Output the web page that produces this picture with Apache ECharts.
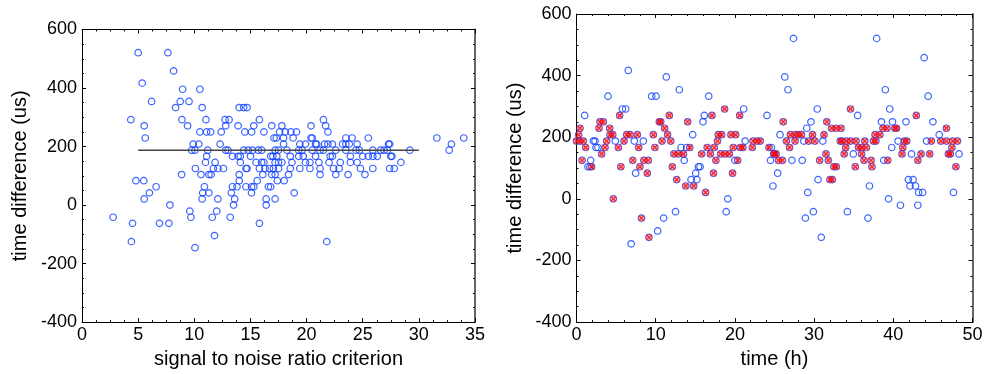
<!DOCTYPE html>
<html>
<head>
<meta charset="utf-8">
<script src="https://cdn.jsdelivr.net/npm/echarts@6/dist/echarts.min.js"></script>
<style>
html,body{margin:0;padding:0;background:#fff;}
#chart{width:995px;height:374px;}
</style>
</head>
<body>
<div id="chart"></div>
<script>
// ---- Left panel: signal to noise ratio criterion vs time difference ----
const snrPoints = [
[5.0,520.8],[7.65,520.8],[8.16,458.3],[5.36,416.7],[8.96,395.8],[10.5,395.8],[6.2,354.2],[8.75,354.2],[9.53,354.2],[8.34,333.3],[10.7,333.3],[14.0,333.3],[14.4,333.3],[14.7,333.3],
[4.35,291.7],[8.9,291.7],[11.04,291.7],[12.74,291.7],[13.1,291.7],[15.8,291.7],[5.54,270.8],[9.4,270.8],[12.8,270.8],[13.9,270.8],[15.3,270.8],[16.9,270.8],
[5.63,229.2],[10.5,250],[11.1,250],[11.46,250],[12.4,250],[14.5,250],[15.1,250],[16.2,250],[17.1,229.2],[9.9,208.3],[10.4,208.3],[12.3,208.3],
[9.77,187.5],[10.06,187.5],[11.2,187.5],[12.8,187.5],[13.0,187.5],[14.4,187.5],[14.8,187.5],[15.2,187.5],[15.7,187.5],[16.0,187.5],[17.5,187.5],
[11.1,166.7],[13.4,166.7],[13.9,166.7],[14.1,166.7],[15.0,166.7],[17.0,166.7],[11.0,145.8],[11.85,145.8],[14.1,145.8],[15.5,145.8],[16.0,145.8],[16.2,145.8],
[10.1,125],[11.7,125],[12.1,125],[12.6,125],[14.6,125],[14.7,125],[15.8,125],[16.3,125],[16.7,125],[8.87,104.2],[10.6,104.2],[11.3,104.2],[11.5,104.2],[14.0,104.2],[16.1,104.2],[17.2,104.2],
[21.5,291.7],[21.7,270.8],[21.9,250],[17.8,270.8],[20.4,270.8],[17.6,250],[18.1,250],[18.6,250],[19.1,250],
[17.3,229.2],[17.95,229.2],[18.8,229.2],[20.4,229.2],[20.5,229.2],[23.5,229.2],[24.05,229.2],[25.5,229.2],[31.6,229.2],[34.0,229.2],
[17.95,208.3],[19.4,208.3],[19.9,208.3],[20.8,208.3],[20.9,208.3],[21.6,208.3],[21.9,208.3],[22.3,208.3],[23.2,208.3],[23.5,208.3],[23.8,208.3],[24.5,208.3],[27.3,208.3],[27.4,208.3],[32.9,208.3],
[32.7,187.5],[29.2,187.5],[17.2,187.5],[18.25,187.5],[19.3,187.5],[19.6,187.5],[20.5,187.5],[21.2,187.5],[21.5,187.5],[22.6,187.5],[23.5,187.5],[24.4,187.5],[24.7,187.5],[25.9,187.5],[26.6,187.5],[26.9,187.5],[27.2,187.5],
[16.8,166.7],[17.35,166.7],[18.55,166.7],[19.3,166.7],[19.7,166.7],[20.8,166.7],[22.1,166.7],[22.3,166.7],[23.9,166.7],[25.0,166.7],[25.5,166.7],[25.9,166.7],[26.3,166.7],[27.5,166.7],[27.6,166.7],
[17.2,145.8],[17.5,145.8],[17.8,145.8],[18.7,145.8],[19.9,145.8],[20.3,145.8],[21.1,145.8],[22.0,145.8],[23.0,145.8],[23.9,145.8],[24.5,145.8],[28.4,145.8],
[17.05,125],[17.5,125],[18.55,125],[19.4,125],[20.3,125],[21.2,125],[22.4,125],[22.9,125],[24.8,125],[25.9,125],[27.4,125],[27.8,125],
[16.9,104.2],[18.4,104.2],[21.2,104.2],[22.6,104.2],[23.7,104.2],[25.2,104.2],
[2.77,-41.7],[4.4,-125],[4.5,-62.5],[4.8,83.3],[5.5,83.3],[5.54,20.8],[6.0,41.7],[6.6,62.5],[6.9,-62.5],[7.74,-62.5],[7.83,0],[9.6,-20.8],[9.7,-41.7],[10.06,-145.8],
[10.7,20.8],[10.75,41.7],[10.9,62.5],[11.3,41.7],[11.6,-41.7],[11.8,-104.2],[12.0,-20.8],[12.1,20.8],[13.2,-41.7],[13.3,41.7],[13.4,62.5],[13.8,62.5],[13.6,20.8],[13.5,0],
[14.0,83.3],[14.6,62.5],[15.1,62.5],[15.3,62.5],[15.1,41.7],[15.6,83.3],[15.8,-62.5],[16.4,0],[16.6,62.5],[16.4,20.8],[17.4,83.3],
[16.8,62.5],[17.2,20.8],[18.0,83.3],[18.9,41.7],[21.8,-125]
];
const meanLineX = [5, 30];
const meanLineY = [187.5, 187.5];

// ---- Right panel: time (h) vs time difference ----
const timeOther = [
[6.54,416.7],[11.34,395.8],[12.98,354.2],[3.98,333.3],[9.49,333.3],[10.04,333.3],[16.69,333.3],[5.79,291.7],[6.21,291.7],[21.1,291.7],[1.03,270.8],[16.14,270.8],[24.05,270.8],[15.97,250],[14.67,208.3],[25.7,208.3],
[2.13,187.5],[2.34,187.5],[4.9,187.5],[7.3,187.5],[8.44,187.5],[21.3,187.5],[2.46,166.7],[2.71,166.7],[13.2,166.7],[13.9,166.7],[1.79,125],[13.6,125],[20.0,125],[24.5,125],[1.45,104.2],[1.7,104.2],[15.4,104.2],[15.6,104.2],[7.47,83.3],[15.05,83.3],[25.4,83.3],
[27.4,520.8],[37.9,520.8],[43.9,458.3],[26.3,395.8],[26.7,354.2],[38.99,354.2],[44.4,333.3],[30.4,291.7],[39.55,291.7],[35.5,270.8],[29.6,250],[38.5,250],[39.9,250],[41.6,250],[45.0,250],[29.07,229.2],[45.8,208.3],[24.6,166.7],[39.8,166.7],
[28.7,187.5],[31.1,187.5],[40.6,187.5],[44.2,187.5],[27.2,125],[28.5,125],[38.8,125],[34.95,145.8],[42.3,145.8],[48.3,145.8],
[14.46,62.5],[15.2,62.5],[24.8,41.7],[19.1,0],[12.5,-41.7],[18.9,-41.7],[11.0,-62.5],[10.25,-104.2],[6.9,-145.8],
[30.5,62.5],[36.99,41.7],[41.9,62.5],[42.5,62.5],[42.1,41.7],[42.8,41.7],[43.2,20.8],[43.7,20.8],[47.6,20.8],[29.2,20.8],[39.4,0],[40.9,-20.8],[43.1,-20.8],[29.9,-41.7],[34.2,-41.7],[28.9,-62.5],[36.8,-62.5],[30.9,-125]
];
const timeSelected = [
[18.7,291.7],[5.45,270.8],[11.72,270.8],[17.1,270.8],[20.6,270.8],[2.97,250],[3.39,250],[10.46,250],[10.63,250],[14.04,250],[0.44,229.2],[2.84,229.2],[4.19,229.2],[11.13,229.2],
[0.27,208.3],[4.23,208.3],[4.57,208.3],[6.34,208.3],[6.76,208.3],[7.68,208.3],[9.7,208.3],[11.5,208.3],[17.9,208.3],[18.33,208.3],[19.5,208.3],[20.1,208.3],
[0.0,187.5],[0.44,187.5],[0.86,187.5],[3.81,187.5],[6.0,187.5],[10.8,187.5],[11.9,187.5],[17.8,187.5],[22.3,187.5],[22.8,187.5],[23.2,187.5],
[1.16,166.7],[3.6,166.7],[5.28,166.7],[7.85,166.7],[9.9,166.7],[14.3,166.7],[16.5,166.7],[17.4,166.7],[19.8,166.7],[20.7,166.7],[21.0,166.7],[22.2,166.7],[24.3,166.7],
[3.18,145.8],[12.3,145.8],[12.86,145.8],[13.5,145.8],[15.8,145.8],[16.9,145.8],[18.2,145.8],[18.75,145.8],[19.3,145.8],[24.9,145.8],
[0.7,125],[7.1,125],[8.5,125],[9.07,125],[17.6,125],[20.35,125],[1.9,104.2],[5.6,104.2],[8.0,104.2],[12.1,104.2],[8.94,83.3],[17.3,83.3],[19.7,83.3],
[34.6,291.7],[42.9,270.8],[26.1,250],[31.6,250],[32.2,229.2],[32.8,229.2],[33.4,229.2],[38.7,229.2],[39.2,229.2],[40.2,229.2],[40.4,229.2],[46.7,229.2],
[27.0,208.3],[27.6,208.3],[28.0,208.3],[28.4,208.3],[29.8,208.3],[31.25,208.3],[37.7,208.3],[38.3,208.3],
[26.5,187.5],[27.6,187.5],[29.3,187.5],[30.1,187.5],[33.3,187.5],[33.5,187.5],[34.1,187.5],[34.6,187.5],[35.3,187.5],[36.4,187.5],[37.5,187.5],[37.8,187.5],[41.4,187.5],[41.7,187.5],[44.8,187.5],[46.0,187.5],[46.7,187.5],[47.5,187.5],[48.1,187.5],
[26.9,166.7],[34.0,166.7],[35.6,166.7],[36.0,166.7],[36.6,166.7],[41.2,166.7],[47.4,166.7],
[25.0,145.8],[25.2,145.8],[31.5,145.8],[33.8,145.8],[36.0,145.8],[41.1,145.8],[43.5,145.8],[44.6,145.8],[46.95,145.8],[47.2,145.8],
[25.5,125],[26.0,125],[30.7,125],[31.8,125],[36.3,125],[37.2,125],[39.3,125],[43.1,125],[32.5,104.2],[32.8,104.2],[35.2,104.2],[37.3,104.2],[47.9,104.2],
[12.65,62.5],[13.8,41.7],[14.8,41.7],[16.3,20.8],[4.65,0],[8.2,-62.5],[9.15,-125],[32.0,62.5],[32.3,62.5]
];

const leftXTicks = {min: 0, max: 35, interval: 5, minor: 4};
const rightXTicks = {min: 0, max: 50, interval: 10, minor: 5};
const yTicks = {min: -400, max: 600, interval: 200, minor: 4};
const leftXName = 'signal to noise ratio criterion';
const rightXName = 'time (h)';
const yName = 'time difference (us)';

const FONT = 'Liberation Sans';
const BLUE = '#0a3cff';

function mainX(gi, t, name) {
  return {
    gridIndex: gi, type: 'value', position: 'bottom', min: t.min, max: t.max, interval: t.interval,
    name: name, nameLocation: 'middle', nameGap: 24,
    nameTextStyle: {fontFamily: FONT, fontSize: 20, color: '#000'},
    axisLine: {show: true, onZero: false, lineStyle: {color: '#000', width: 1}},
    axisTick: {show: true, inside: true, length: 4, lineStyle: {color: '#000'}},
    minorTick: {show: true, splitNumber: t.minor, length: 2, lineStyle: {color: '#000'}},
    axisLabel: {fontFamily: FONT, fontSize: 18, color: '#000', margin: 4},
    splitLine: {show: false}
  };
}
function topX(gi, t) {
  return {
    gridIndex: gi, type: 'value', position: 'top', min: t.min, max: t.max, interval: t.interval,
    axisLine: {show: true, onZero: false, lineStyle: {color: '#000', width: 1}},
    axisTick: {show: true, inside: true, length: 4, lineStyle: {color: '#000'}},
    minorTick: {show: true, splitNumber: t.minor, length: 2, lineStyle: {color: '#000'}},
    axisLabel: {show: false}, splitLine: {show: false}
  };
}
function mainY(gi, gap) {
  return {
    gridIndex: gi, type: 'value', position: 'left', min: yTicks.min, max: yTicks.max, interval: yTicks.interval,
    name: yName, nameLocation: 'middle', nameGap: gap, nameRotate: 90,
    nameTextStyle: {fontFamily: FONT, fontSize: 20, color: '#000'},
    axisLine: {show: true, onZero: false, lineStyle: {color: '#000', width: 1}},
    axisTick: {show: true, inside: true, length: 4, lineStyle: {color: '#000'}},
    minorTick: {show: true, splitNumber: yTicks.minor, length: 2, lineStyle: {color: '#000'}},
    axisLabel: {fontFamily: FONT, fontSize: 18, color: '#000', margin: 5},
    splitLine: {show: false}
  };
}
function rightY(gi) {
  return {
    gridIndex: gi, type: 'value', position: 'right', min: yTicks.min, max: yTicks.max, interval: yTicks.interval,
    axisLine: {show: true, onZero: false, lineStyle: {color: '#666', width: 2}},
    axisTick: {show: true, inside: true, length: 4, lineStyle: {color: '#000'}},
    minorTick: {show: true, splitNumber: yTicks.minor, length: 2, lineStyle: {color: '#000'}},
    axisLabel: {show: false}, splitLine: {show: false}
  };
}

const circleStyle = {color: 'rgba(0,0,0,0)', borderColor: BLUE, borderWidth: 1.2};

const chart = echarts.init(document.getElementById('chart'), null, {renderer: 'canvas'});
chart.setOption({
  animation: false,
  backgroundColor: '#fff',
  grid: [
    {left: 82, top: 29.5, width: 393, height: 295.5},
    {left: 576.5, top: 14, width: 396, height: 310.5}
  ],
  xAxis: [mainX(0, leftXTicks, leftXName), topX(0, leftXTicks), mainX(1, rightXTicks, rightXName), topX(1, rightXTicks)],
  yAxis: [mainY(0, 52), rightY(0), mainY(1, 51), rightY(1)],
  series: [
    {type: 'scatter', xAxisIndex: 0, yAxisIndex: 0, data: snrPoints, symbol: 'circle', symbolSize: 6.5, itemStyle: circleStyle, z: 2},
    {type: 'line', xAxisIndex: 0, yAxisIndex: 0, data: meanLineX.map((x, i) => [x, meanLineY[i]]), symbol: 'none',
     lineStyle: {color: '#444', width: 1.5}, z: 3},
    {type: 'scatter', xAxisIndex: 2, yAxisIndex: 2, data: timeOther.concat(timeSelected), symbol: 'circle', symbolSize: 6.5, itemStyle: circleStyle, z: 2},
    {type: 'scatter', xAxisIndex: 2, yAxisIndex: 2, data: timeSelected, symbol: 'rect', symbolSize: 6.5,
     itemStyle: {color: 'rgba(255,40,40,0.45)', borderWidth: 0}, z: 3},
    {type: 'scatter', xAxisIndex: 2, yAxisIndex: 2, data: timeSelected, symbol: 'path://M0,0L10,10M10,0L0,10', symbolSize: 4.5,
     itemStyle: {color: 'rgba(0,0,0,0)', borderColor: '#ff0000', borderWidth: 1.3}, z: 4}
  ]
});
</script>
</body>
</html>
